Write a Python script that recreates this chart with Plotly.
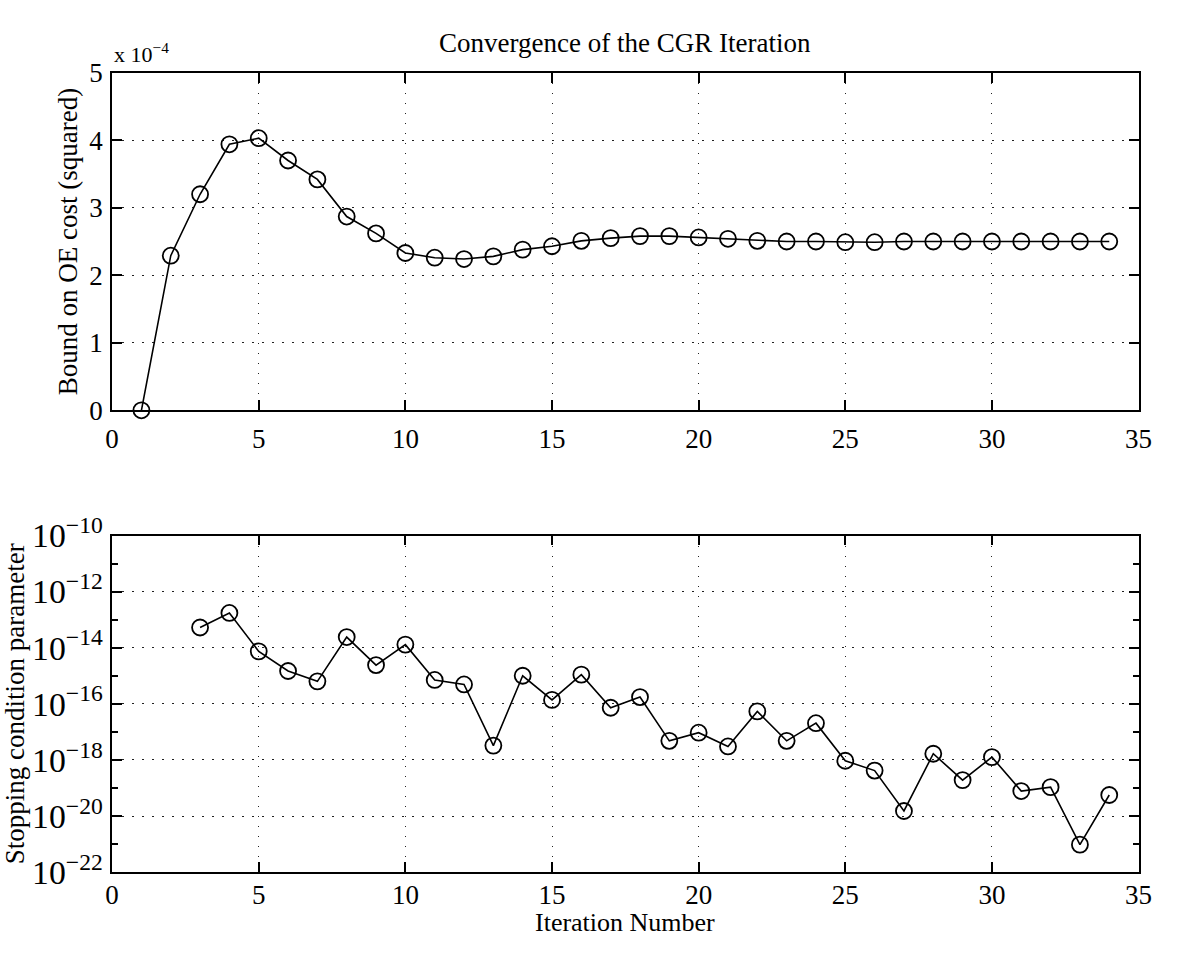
import plotly.graph_objects as go

iterations_top = list(range(1, 35))
bound_e4 = [0.00, 2.29, 3.20, 3.94, 4.03, 3.70, 3.42, 2.87, 2.62, 2.33,
            2.26, 2.24, 2.28, 2.38, 2.43, 2.51, 2.55, 2.58, 2.58, 2.56,
            2.54, 2.51, 2.50, 2.50, 2.49, 2.49, 2.50, 2.50, 2.50, 2.50,
            2.50, 2.50, 2.50, 2.50]

iterations_bottom = list(range(3, 35))
stop_log10 = [-13.28, -12.76, -14.13, -14.83, -15.20, -13.62, -14.62, -13.89,
              -15.15, -15.31, -17.49, -15.00, -15.86, -14.96, -16.14, -15.76,
              -17.32, -17.03, -17.52, -16.27, -17.32, -16.69, -18.03, -18.38,
              -19.82, -17.78, -18.72, -17.90, -19.11, -18.97, -21.02, -19.25]
stop_param = [10 ** v for v in stop_log10]

x_ticks = [0, 5, 10, 15, 20, 25, 30, 35]
top_y_ticks = [0, 1, 2, 3, 4, 5]

FONT = "Liberation Serif"
TICK_SIZE = 27
TITLE_SIZE = 27

fig = go.Figure()
for xs, ys, xa, ya in [(iterations_top, bound_e4, "x", "y"),
                       (iterations_bottom, stop_param, "x2", "y2")]:
    fig.add_trace(go.Scatter(
        x=xs, y=ys, mode="lines+markers",
        line=dict(color="black", width=1.6),
        marker=dict(symbol="circle-open", size=16, color="black", line=dict(width=1.8)),
        xaxis=xa, yaxis=ya, showlegend=False, cliponaxis=False))

axis_common = dict(
    showline=True, linecolor="black", linewidth=1.8, mirror="ticks",
    ticks="inside", ticklen=10, tickcolor="black", tickwidth=1.5,
    showgrid=True, gridcolor="#222222", griddash="1.5px,8.5px", gridwidth=1.3,
    zeroline=False, tickfont=dict(family=FONT, size=TICK_SIZE, color="black"),
)

XDOM = [0.0906, 0.9755]

fig.update_layout(
    width=1181, height=958,
    paper_bgcolor="white", plot_bgcolor="white",
    margin=dict(l=0, r=0, t=0, b=0),
    font=dict(family=FONT, color="black"),
    xaxis=dict(domain=XDOM, anchor="y", range=[0, 35],
               tickvals=x_ticks, ticklabelstandoff=3, **axis_common),
    yaxis=dict(domain=[0.5772, 0.9457], anchor="x", range=[0, 5],
               tickvals=top_y_ticks, ticklabelstandoff=2,
               title=dict(text="Bound on OE cost (squared)",
                          font=dict(family=FONT, size=TITLE_SIZE), standoff=4),
               **axis_common),
    xaxis2=dict(domain=XDOM, anchor="y2", range=[0, 35],
                tickvals=x_ticks, ticklabelstandoff=-2, **axis_common),
    yaxis2=dict(domain=[0.0730, 0.4405], anchor="x2", type="log", range=[-22, -10],
                tickmode="linear", tick0=-22, dtick=2, exponentformat="power",
                ticklabelstandoff=2,
                minor=dict(tickmode="linear", tick0=-21, dtick=2, ticks="inside", ticklen=6,
                           tickcolor="black", tickwidth=1.5, showgrid=False),
                title=dict(text="Stopping condition parameter",
                           font=dict(family=FONT, size=TITLE_SIZE), standoff=4),
                **axis_common),
    annotations=[
        dict(text="Convergence of the CGR Iteration", x=0.533, y=0.978,
             xref="paper", yref="paper", xanchor="center", yanchor="middle",
             showarrow=False, font=dict(family=FONT, size=27, color="black")),
        dict(text="x 10<sup>−4</sup>", x=0.0906, y=0.950, xref="paper", yref="paper",
             xanchor="left", yanchor="bottom", showarrow=False,
             font=dict(family=FONT, size=22, color="black")),
        dict(text="Iteration Number", x=0.533, y=0.0,
             xref="paper", yref="paper", xanchor="center", yanchor="bottom",
             showarrow=False, font=dict(family=FONT, size=26, color="black")),
    ],
)

fig.write_html("out.html")
